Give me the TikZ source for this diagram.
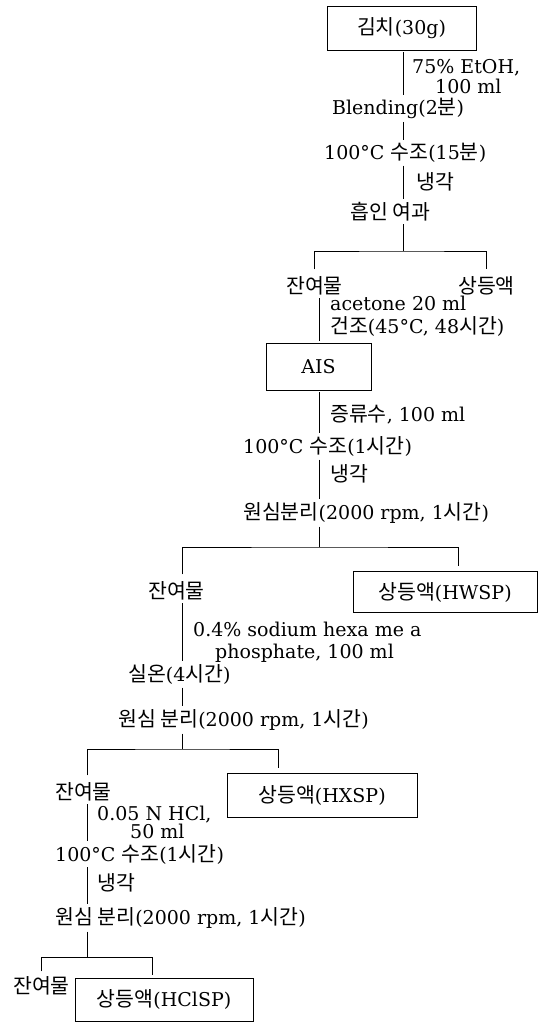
\documentclass[tikz,border=0pt]{standalone}
\usepackage{fontspec}
\setmainfont{DejaVu Serif}
\newfontfamily\kr[Scale=1.08]{Noto Sans CJK KR}
\newcommand{\K}[1]{{\kr #1}}

\tikzset{
  txt/.style={anchor=base west, inner xsep=0pt, inner ysep=1pt, font=\fontsize{19}{22}\selectfont},
  bx/.style={draw, thick, inner sep=0pt, font=\fontsize{19}{22}\selectfont},
  ln/.style={thick, shorten <=2pt, shorten >=2pt},
}

\begin{document}
\begin{tikzpicture}[x=1pt, y=-1pt]

\useasboundingbox (0,0) rectangle (542,1022);

\node[bx, minimum width=149pt, minimum height=44pt] (kimchi) at (401.5,28) {\K{김치}(30g)};
\node[txt] (etoh1) at (412,73.5) {75\% EtOH,};
\node[txt] (etoh2) at (435,93.5) {100 ml};
\node[txt] (blend) at (332,114.5) {Blending(2\K{분})};
\node[txt] (bath1) at (324,159.5) {100°C \K{수조}(15\K{분})};
\node[txt] (cool1) at (416,189.5) {\K{냉각}};
\node[txt] (filt) at (350,219.5) {\K{흡인 여과}};
\node[txt] (res1) at (286,293.5) {\K{잔여물}};
\node[txt] (sup1) at (458,293.5) {\K{상등액}};
\node[txt] (acet) at (330,310) {acetone 20 ml};
\node[txt] (dry) at (330,333) {\K{건조}(45°C, 48\K{시간})};

\node[bx, minimum width=105pt, minimum height=47pt] (ais) at (318.5,366.5) {AIS};
\node[txt] (water) at (330,421.5) {\K{증류수}, 100 ml};
\node[txt] (bath2) at (243,453.5) {100°C \K{수조}(1\K{시간})};
\node[txt] (cool2) at (330,481.5) {\K{냉각}};
\node[txt] (cent1) at (243,519.5) {\K{원심분리}(2000 rpm, 1\K{시간})};

\node[txt] (res2) at (148,598.5) {\K{잔여물}};
\node[bx, minimum width=184pt, minimum height=41pt] (hwsp) at (445,592) {\K{상등액}(HWSP)};
\node[txt] (hexa1) at (193,636.5) {0.4\% sodium hexa me a};
\node[txt] (hexa2) at (215,658.5) {phosphate, 100 ml};
\node[txt] (room) at (128,681.5) {\K{실온}(4\K{시간})};
\node[txt] (cent2) at (118,726.5) {\K{원심 분리}(2000 rpm, 1\K{시간})};

\node[txt] (res3) at (55,799.5) {\K{잔여물}};
\node[bx, minimum width=190pt, minimum height=44pt] (hxsp) at (322,795) {\K{상등액}(HXSP)};
\node[txt] (hcl1) at (97,820) {0.05 N HCl,};
\node[txt] (hcl2) at (130,838.5) {50 ml};
\node[txt] (bath3) at (55,861) {100°C \K{수조}(1\K{시간})};
\node[txt] (cool3) at (97,890) {\K{냉각}};
\node[txt] (cent3) at (55,924.5) {\K{원심 분리}(2000 rpm, 1\K{시간})};

\node[txt] (res4) at (13,993.5) {\K{잔여물}};
\node[bx, minimum width=178pt, minimum height=43pt] (hclsp) at (164,999.5) {\K{상등액}(HClSP)};

\coordinate (sA) at (403,0);
\coordinate (sB) at (319,0);
\coordinate (sC) at (182,0);
\coordinate (sD) at (87,0);
\coordinate (j1) at (403,251);
\coordinate (j2) at (319,547);
\coordinate (k2) at (458,547);
\coordinate (j3) at (182,749);
\coordinate (k3) at (278,749);
\coordinate (j4) at (87,957);
\coordinate (k4) at (152,957);

\draw[ln] (sA |- kimchi.south) -- (sA |- blend.north);
\draw[ln] (sA |- blend.south) -- (sA |- bath1.north);
\draw[ln] (sA |- bath1.south) -- (sA |- filt.north);
\draw[ln, shorten >=0pt] (sA |- filt.south) -- (j1);
\draw[ln, shorten <=6pt, shorten >=6pt] (res1.north) |- (j1) -| (sup1.north);

\draw[ln] (sB |- res1.south) -- (sB |- ais.north);
\draw[ln] (sB |- ais.south) -- (sB |- bath2.north);
\draw[ln] (sB |- bath2.south) -- (sB |- cent1.north);
\draw[ln, shorten >=0pt] (sB |- cent1.south) -- (j2);
\draw[ln, shorten <=6pt, shorten >=5pt] (sC |- res2.north) |- (j2) -| (k2 |- hwsp.north);

\draw[ln] (sC |- res2.south) -- (sC |- room.north);
\draw[ln] (sC |- room.south) -- (sC |- cent2.north);
\draw[ln, shorten >=0pt] (sC |- cent2.south) -- (j3);
\draw[ln, shorten <=6pt, shorten >=5pt] (sD |- res3.north) |- (j3) -| (k3 |- hxsp.north);

\draw[ln] (sD |- res3.south) -- (sD |- bath3.north);
\draw[ln] (sD |- bath3.south) -- (sD |- cent3.north);
\draw[ln, shorten >=0pt] (sD |- cent3.south) -- (j4);
\draw[ln, shorten <=4pt, shorten >=3pt] (res4.north) |- (j4) -| (k4 |- hclsp.north);

\end{tikzpicture}
\end{document}
